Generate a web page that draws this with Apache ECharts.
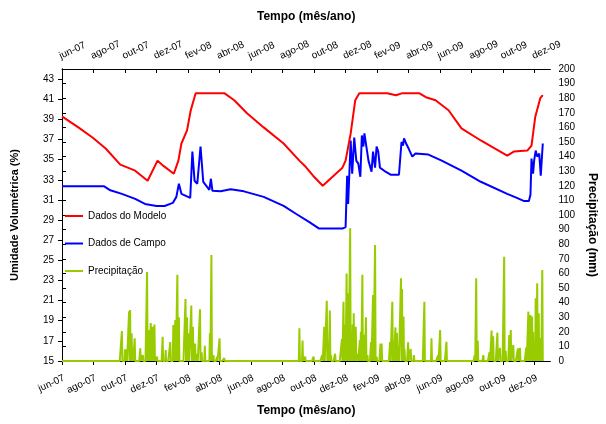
<!DOCTYPE html>
<html>
<head>
<meta charset="utf-8">
<script src="https://cdn.jsdelivr.net/npm/echarts@6/dist/echarts.min.js"></script>
<style>
  html, body { margin: 0; padding: 0; background: #fff; }
  #chart { width: 606px; height: 424px; }
</style>
</head>
<body>
<div id="chart"></div>
<script>
// Month tick labels (every two months, starting June 2007)
const monthLabels = ['jun-07', 'ago-07', 'out-07', 'dez-07', 'fev-08', 'abr-08', 'jun-08', 'ago-08',
  'out-08', 'dez-08', 'fev-09', 'abr-09', 'jun-09', 'ago-09', 'out-09', 'dez-09'];

// Modelled volumetric moisture (%)
const modelData = [
  ['2007-06-01', 39.3], ['2007-07-05', 38.1], ['2007-07-30', 37.2], ['2007-08-25', 36.1],
  ['2007-09-22', 34.5], ['2007-10-21', 33.9], ['2007-11-14', 32.9], ['2007-12-03', 34.9],
  ['2007-12-14', 34.4], ['2008-01-04', 33.6], ['2008-01-13', 34.9], ['2008-01-19', 36.6],
  ['2008-01-30', 37.9], ['2008-02-06', 39.9], ['2008-02-15', 41.6], ['2008-04-10', 41.6],
  ['2008-04-29', 40.9], ['2008-05-24', 39.6], ['2008-06-25', 38.2], ['2008-08-03', 36.6],
  ['2008-09-03', 34.9], ['2008-09-13', 34.4], ['2008-09-29', 33.4], ['2008-10-18', 32.4],
  ['2008-11-25', 34.2], ['2008-12-01', 34.9], ['2008-12-11', 37.6], ['2008-12-20', 40.9],
  ['2008-12-28', 41.6], ['2009-02-19', 41.6], ['2009-03-07', 41.4], ['2009-03-20', 41.6],
  ['2009-04-21', 41.6], ['2009-05-04', 41.2], ['2009-05-23', 40.9], ['2009-06-17', 39.9],
  ['2009-07-12', 38.1], ['2009-08-19', 36.9], ['2009-10-09', 35.4], ['2009-10-22', 35.8],
  ['2009-11-17', 35.9], ['2009-11-25', 36.4], ['2009-12-02', 39.2], ['2009-12-12', 41.1],
  ['2009-12-17', 41.4]
];

// Field-measured volumetric moisture (%)
const fieldData = [
  ['2007-06-01', 32.35], ['2007-08-22', 32.35], ['2007-09-03', 31.95], ['2007-09-25', 31.6],
  ['2007-10-21', 31.1], ['2007-11-09', 30.6], ['2007-12-01', 30.4], ['2007-12-17', 30.4],
  ['2008-01-02', 30.7], ['2008-01-09', 31.3], ['2008-01-14', 32.6], ['2008-01-19', 31.6],
  ['2008-02-05', 31.2], ['2008-02-09', 35.8], ['2008-02-13', 32.9], ['2008-02-18', 32.6],
  ['2008-02-24', 36.3], ['2008-02-29', 32.8], ['2008-03-12', 32.0], ['2008-03-15', 33.1],
  ['2008-03-18', 31.9], ['2008-04-03', 31.85], ['2008-04-22', 32.05], ['2008-05-18', 31.85],
  ['2008-06-25', 31.3], ['2008-08-03', 30.4], ['2008-08-28', 29.6], ['2008-09-22', 28.8],
  ['2008-10-11', 28.15], ['2008-11-25', 28.15], ['2008-12-01', 28.3], ['2008-12-04', 33.4],
  ['2008-12-06', 30.6], ['2008-12-11', 36.9], ['2008-12-14', 33.6], ['2008-12-18', 37.2],
  ['2008-12-22', 34.9], ['2008-12-26', 34.6], ['2008-12-30', 33.3], ['2009-01-02', 37.4],
  ['2009-01-05', 36.3], ['2009-01-07', 37.6], ['2009-01-10', 37.5], ['2009-01-15', 34.9],
  ['2009-01-21', 33.8], ['2009-01-24', 35.8], ['2009-01-28', 34.2], ['2009-01-31', 36.3],
  ['2009-02-03', 35.8], ['2009-02-06', 34.2], ['2009-02-16', 33.8], ['2009-02-25', 33.5],
  ['2009-03-13', 33.5], ['2009-03-18', 36.75], ['2009-03-21', 36.4], ['2009-03-23', 37.1],
  ['2009-03-28', 36.5], ['2009-04-01', 36.1], ['2009-04-08', 35.3], ['2009-04-14', 35.6],
  ['2009-05-09', 35.5], ['2009-06-04', 34.9], ['2009-07-12', 33.9], ['2009-08-19', 32.8],
  ['2009-10-09', 31.6], ['2009-10-28', 31.2], ['2009-11-10', 30.9], ['2009-11-20', 30.9],
  ['2009-11-23', 31.5], ['2009-11-25', 35.1], ['2009-11-28', 33.6], ['2009-11-30', 34.9],
  ['2009-12-03', 35.9], ['2009-12-06', 35.3], ['2009-12-10', 35.6], ['2009-12-13', 33.4],
  ['2009-12-17', 36.6]
];

// Daily rainfall (mm) on rainy days; every other day of the record is dry
const rainDays = [
  ['2007-09-25', 20.5], ['2007-10-01', 8], ['2007-10-04', 8], ['2007-10-09', 34], ['2007-10-11', 35],
  ['2007-10-14', 19], ['2007-10-16', 6], ['2007-10-20', 15.5], ['2007-10-31', 8.7], ['2007-11-05', 4],
  ['2007-11-13', 61], ['2007-11-16', 21], ['2007-11-20', 26], ['2007-11-24', 23.5], ['2007-11-27', 25],
  ['2007-12-02', 3], ['2007-12-13', 16.6], ['2007-12-19', 7.5], ['2007-12-28', 13], ['2008-01-03', 24.6],
  ['2008-01-07', 28], ['2008-01-11', 59], ['2008-01-14', 30], ['2008-01-27', 42.5], ['2008-01-30', 30],
  ['2008-02-02', 19], ['2008-02-07', 38], ['2008-02-10', 23.5], ['2008-02-14', 12], ['2008-02-18', 5],
  ['2008-02-23', 35.4], ['2008-02-26', 6], ['2008-03-03', 10.5], ['2008-03-13', 19], ['2008-03-16', 72.6],
  ['2008-03-20', 4], ['2008-03-27', 3], ['2008-04-01', 15.5], ['2008-04-10', 2], ['2008-07-15', 1],
  ['2008-09-03', 22.4], ['2008-09-09', 14], ['2008-09-14', 3], ['2008-09-30', 3], ['2008-10-17', 4],
  ['2008-10-21', 23.5], ['2008-10-26', 41.3], ['2008-10-29', 8], ['2008-11-01', 34.5], ['2008-11-03', 4],
  ['2008-11-11', 5], ['2008-11-24', 15], ['2008-11-27', 40.6], ['2008-11-30', 24.7], ['2008-12-03', 60],
  ['2008-12-06', 46.4], ['2008-12-10', 91], ['2008-12-13', 19], ['2008-12-15', 25], ['2008-12-17', 32.7],
  ['2008-12-21', 23.5], ['2008-12-25', 5], ['2008-12-29', 14.4], ['2008-12-31', 20], ['2009-01-03', 59],
  ['2009-01-07', 18], ['2009-01-10', 30], ['2009-01-13', 4], ['2009-01-20', 13], ['2009-01-24', 45.2],
  ['2009-01-28', 79.5], ['2009-01-31', 3], ['2009-02-07', 12], ['2009-02-09', 12], ['2009-02-24', 13],
  ['2009-02-28', 40.6], ['2009-03-02', 4], ['2009-03-06', 23], ['2009-03-09', 19.4], ['2009-03-12', 10],
  ['2009-03-17', 56.6], ['2009-03-19', 49.3], ['2009-03-22', 30.4], ['2009-03-24', 8], ['2009-03-31', 12.8],
  ['2009-04-05', 8.2], ['2009-04-11', 4], ['2009-05-01', 40.6], ['2009-05-15', 15.5], ['2009-05-28', 4],
  ['2009-06-01', 21.2], ['2009-06-13', 13.2], ['2009-08-07', 4], ['2009-08-10', 56.6], ['2009-08-13', 14],
  ['2009-08-24', 4], ['2009-09-05', 6], ['2009-09-09', 20.8], ['2009-09-12', 17], ['2009-09-20', 19.4],
  ['2009-09-25', 9], ['2009-10-03', 71.4], ['2009-10-06', 7], ['2009-10-13', 17.8], ['2009-10-16', 21.2],
  ['2009-10-21', 11], ['2009-10-30', 8.7], ['2009-11-03', 9], ['2009-11-15', 9.4], ['2009-11-19', 33.8],
  ['2009-11-23', 31.5], ['2009-11-26', 30.4], ['2009-11-28', 20], ['2009-12-01', 8], ['2009-12-03', 43],
  ['2009-12-06', 53.2], ['2009-12-09', 32.7], ['2009-12-11', 4], ['2009-12-13', 15.5], ['2009-12-16', 62.3]
];
const rainFirstDay = '2007-06-01';
const rainLastDay = '2009-12-17';

// Position on the time axis, counted in months from 1 June 2007
function toMonths(s) {
  const [y, m, d] = s.split('-').map(Number);
  const daysInMonth = new Date(Date.UTC(y, m, 0)).getUTCDate();
  return (y - 2007) * 12 + (m - 6) + (d - 1) / daysInMonth;
}

const asXY = rows => rows.map(([d, v]) => [toMonths(d), v]);

// One entry per calendar day of the record
const rainByDay = new Map(rainDays);
const rainSeries = [];
const DAY = 86400000;
for (let t = Date.parse(rainFirstDay + 'T00:00:00Z'); t <= Date.parse(rainLastDay + 'T00:00:00Z'); t += DAY) {
  const key = new Date(t).toISOString().slice(0, 10);
  rainSeries.push([toMonths(key), rainByDay.has(key) ? rainByDay.get(key) : 0]);
}

const FONT = '"Liberation Sans", Arial, sans-serif';
const labelText = { fontSize: 10, color: '#000', fontFamily: FONT };
const titleText = { fontSize: 12, fontWeight: 'bold', color: '#000', fontFamily: FONT };
const axisLine = { show: true, lineStyle: { color: '#000', width: 1 } };

const monthFormatter = v => {
  const i = v / 2;
  return Number.isInteger(i) && i < monthLabels.length ? monthLabels[i] : '';
};

const chart = echarts.init(document.getElementById('chart'), null, { renderer: 'canvas' });
chart.setOption({
  animation: false,
  backgroundColor: '#fff',
  grid: { left: 62, right: 49, top: 69, bottom: 63, containLabel: false },
  legend: {
    orient: 'vertical',
    left: 65,
    top: 211,
    padding: 0,
    icon: 'rect',
    itemWidth: 18,
    itemHeight: 2,
    itemGap: 17.5,
    data: ['Dados do Modelo', 'Dados de Campo', 'Precipitação'],
    textStyle: labelText
  },
  xAxis: [
    {
      type: 'value', position: 'bottom', min: 0, max: 31, interval: 2,
      name: 'Tempo (mês/ano)', nameLocation: 'middle', nameGap: 44, nameTextStyle: titleText,
      axisLine, splitLine: { show: false },
      axisTick: { inside: false, length: 4, lineStyle: { color: '#000' } },
      axisLabel: { ...labelText, rotate: 25, verticalAlign: 'top', margin: 12, formatter: monthFormatter, showMaxLabel: false }
    },
    {
      type: 'value', position: 'top', min: 0, max: 31, interval: 2,
      name: 'Tempo (mês/ano)', nameLocation: 'middle', nameGap: 46, nameTextStyle: titleText,
      axisLine, splitLine: { show: false },
      axisTick: { inside: true, length: 4, lineStyle: { color: '#000' } },
      axisLabel: { ...labelText, rotate: -25, align: 'left', verticalAlign: 'bottom', margin: 8, formatter: monthFormatter, showMaxLabel: false }
    }
  ],
  yAxis: [
    {
      type: 'value', position: 'left', min: 15, max: 44, interval: 2,
      name: 'Umidade Volumétrica (%)', nameLocation: 'middle', nameGap: 42,
      nameTextStyle: { ...titleText, fontSize: 11 },
      axisLine, splitLine: { show: false },
      axisTick: { inside: false, length: 4, lineStyle: { color: '#000' } },
      axisLabel: { ...labelText, margin: 8, showMaxLabel: false }
    },
    {
      type: 'value', position: 'right', min: 0, max: 200, interval: 10,
      name: 'Precipitação (mm)', nameLocation: 'middle', nameGap: 34, nameRotate: -90,
      nameTextStyle: { ...titleText, padding: [0, 0, 0, 20] },
      axisLine, splitLine: { show: false },
      axisTick: { inside: false, length: 4, lineStyle: { color: '#000' } },
      axisLabel: { ...labelText, margin: 8 }
    }
  ],
  series: [
    {
      name: 'Precipitação', type: 'line', xAxisIndex: 0, yAxisIndex: 1,
      data: rainSeries, symbol: 'none', clip: false,
      color: '#99CC00', lineStyle: { color: '#99CC00', width: 2 }
    },
    {
      name: 'Dados de Campo', type: 'line', xAxisIndex: 0, yAxisIndex: 0,
      data: asXY(fieldData), symbol: 'none',
      color: '#0000FF', lineStyle: { color: '#0000FF', width: 2 }
    },
    {
      name: 'Dados do Modelo', type: 'line', xAxisIndex: 0, yAxisIndex: 0,
      data: asXY(modelData), symbol: 'none',
      color: '#FF0000', lineStyle: { color: '#FF0000', width: 2 }
    }
  ]
});
</script>
</body>
</html>
